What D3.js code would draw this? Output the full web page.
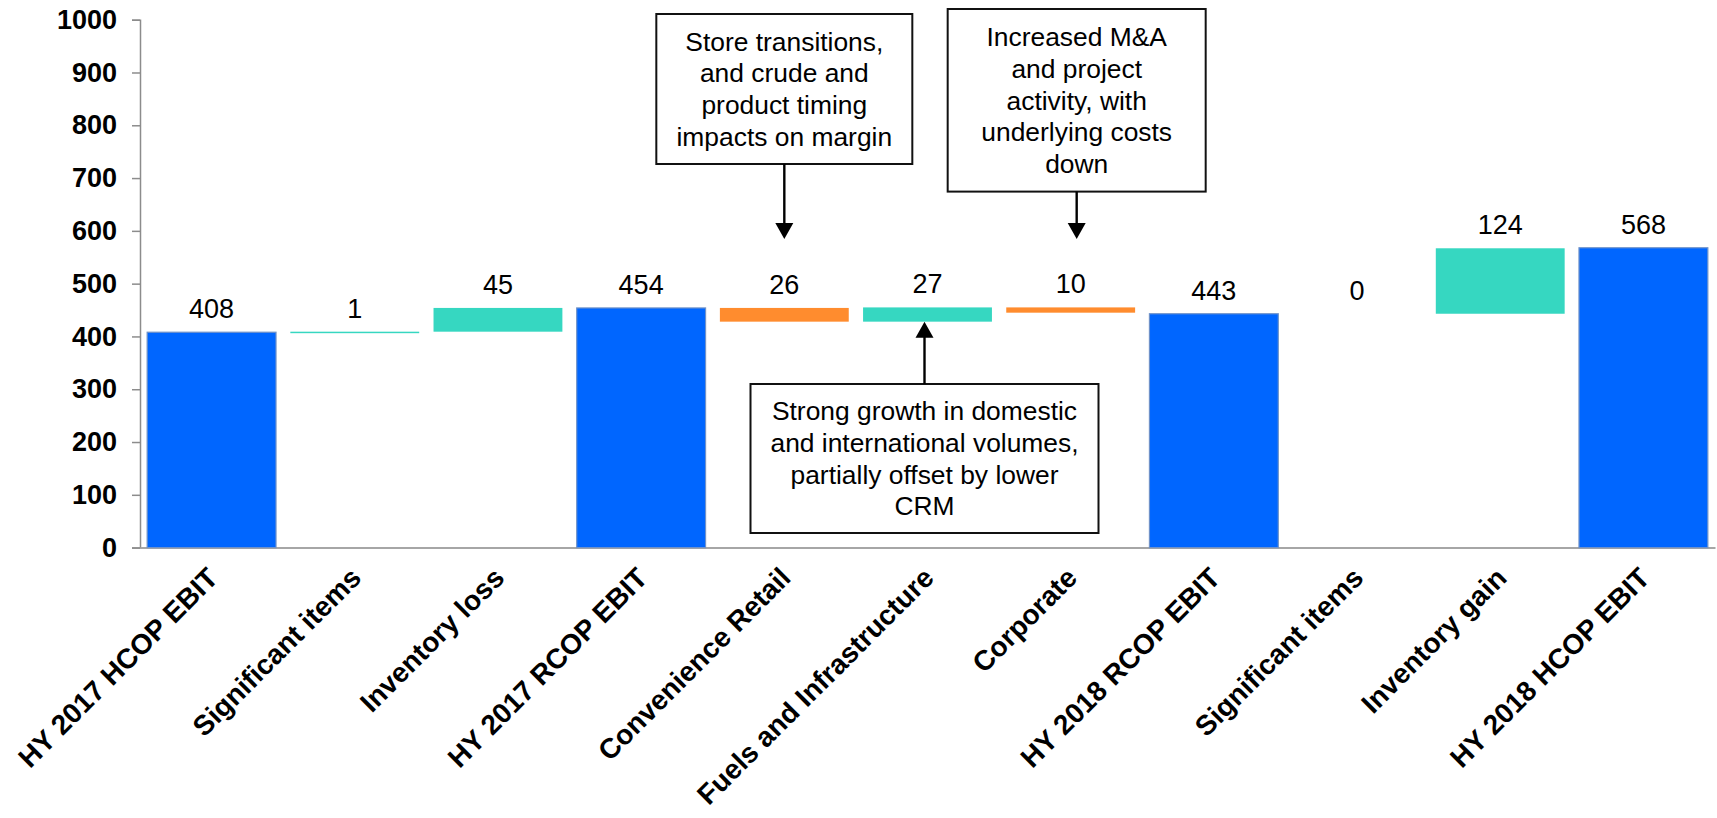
<!DOCTYPE html>
<html><head><meta charset="utf-8">
<script src="https://cdn.jsdelivr.net/npm/d3@7"></script>
<style>
body{margin:0;background:#fff;}
svg{display:block;}
text{font-family:"Liberation Sans",Arial,sans-serif;}
</style>
</head><body>
<svg id="chart" width="1717" height="818"></svg>
<script>
// ---- data ----
const categories = ["HY 2017 HCOP EBIT","Significant items","Inventory loss","HY 2017 RCOP EBIT","Convenience Retail","Fuels and Infrastructure","Corporate","HY 2018 RCOP EBIT","Significant items","Inventory gain","HY 2018 HCOP EBIT"];
const values = [408, 1, 45, 454, -26, 27, -10, 443, 0, 124, 568];
const kinds = ["total","up","up","total","down","up","down","total","up","up","total"];
const valueLabels = ["408","1","45","454","26","27","10","443","0","124","568"];
const yTicks = [0,100,200,300,400,500,600,700,800,900,1000];
const noteCats = [4, 6, 5];
const noteLines = [
  ["Store transitions,","and crude and","product timing","impacts on margin"],
  ["Increased M&A","and project","activity, with","underlying costs","down"],
  ["Strong growth in domestic","and international volumes,","partially offset by lower","CRM"]
];

// ---- layout ----
const plotLeft = 140, plotRight = 1715, plotTop = 19.7, plotBase = 547.6;
const colors = {total:"#0066FF", up:"#36D7C1", down:"#FF8C2E"};

const svg = d3.select("#chart");
const x = d3.scaleBand().domain(d3.range(categories.length)).range([plotLeft, plotRight]).paddingInner(0.1).paddingOuter(0.05);
const y = d3.scaleLinear().domain([0, 1000]).range([plotBase, plotTop]);

// running totals
let run = 0;
const steps = values.map((v, i) => {
  let s, e;
  if (kinds[i] === "total") { s = 0; e = v; run = v; }
  else { s = run; e = run + v; run = e; }
  return {i, s, e, kind: kinds[i], label: valueLabels[i]};
});

// y axis
const yAxis = d3.axisLeft(y).tickValues(yTicks).tickSize(8).tickPadding(15).tickFormat(d3.format("d"));
const gy = svg.append("g").attr("transform", `translate(${plotLeft},0)`).call(yAxis);
gy.selectAll("path,line").attr("stroke", "#8c8c8c").attr("stroke-width", 1.5);
gy.selectAll("text").attr("font-size", 27).attr("font-weight", "bold").attr("fill", "#000")
  .style("font-family", '"Liberation Sans",Arial,sans-serif');

// x axis line
const xAxis = d3.axisBottom(x).tickSize(0).tickFormat("");
const gx = svg.append("g").attr("transform", `translate(0,${plotBase})`).call(xAxis);
gx.select("path").attr("stroke", "#a6a6a6").attr("stroke-width", 2);

// bars
svg.append("g").selectAll("rect").data(steps).join("rect")
  .attr("x", d => x(d.i))
  .attr("width", x.bandwidth())
  .attr("y", d => y(Math.max(d.s, d.e)))
  .attr("height", d => d.e === d.s ? 0 : Math.max(1.5, Math.abs(y(d.s) - y(d.e))))
  .attr("fill", d => colors[d.kind])
  .attr("stroke", d => d.kind === "total" ? "#6f92c9" : "none")
  .attr("stroke-width", 1.2);

// value labels
svg.append("g").selectAll("text").data(steps).join("text")
  .attr("x", d => x(d.i) + x.bandwidth() / 2)
  .attr("y", d => y(Math.max(d.s, d.e)) - 14)
  .attr("text-anchor", "middle")
  .attr("font-size", 27)
  .attr("fill", "#000")
  .text(d => d.label);

// category labels
svg.append("g").selectAll("text").data(categories).join("text")
  .attr("transform", (d, i) => `translate(${x(i) + x.bandwidth() / 2 + 8},${plotBase + 32}) rotate(-45)`)
  .attr("text-anchor", "end")
  .attr("font-size", 28)
  .attr("font-weight", "bold")
  .attr("fill", "#000")
  .text(d => d);

// annotations
const notes = [
  {dx: 0, w: 256, t: 14, b: 164, tip: 239},
  {dx: 6, w: 258, t: 9, b: 191.6, tip: 239},
  {dx: -3, w: 348, t: 384, b: 533, tip: null}
];
const gn = svg.append("g");
notes.forEach((n, k) => {
  const cat = noteCats[k];
  const cx = x(cat) + x.bandwidth() / 2 + n.dx;
  gn.append("rect").attr("x", cx - n.w / 2).attr("y", n.t).attr("width", n.w).attr("height", n.b - n.t)
    .attr("fill", "#fff").attr("stroke", "#111").attr("stroke-width", 2);
  const lines = noteLines[k];
  const lh = 31.8, mid = (n.t + n.b) / 2;
  lines.forEach((ln, j) => {
    gn.append("text").attr("x", cx).attr("y", mid + (j - (lines.length - 1) / 2) * lh)
      .attr("dy", "0.35em").attr("text-anchor", "middle").attr("font-size", 26.4).attr("fill", "#000").text(ln);
  });
  const ah = 16, aw = 9;
  if (n.tip !== null) {
    gn.append("line").attr("x1", cx).attr("x2", cx).attr("y1", n.b).attr("y2", n.tip - ah + 1).attr("stroke", "#000").attr("stroke-width", 2.4);
    gn.append("path").attr("d", `M${cx - aw},${n.tip - ah} L${cx + aw},${n.tip - ah} L${cx},${n.tip} Z`).attr("fill", "#000");
  } else {
    const st = steps[cat];
    const tipY = y(Math.min(st.s, st.e));
    gn.append("line").attr("x1", cx).attr("x2", cx).attr("y1", n.t).attr("y2", tipY + ah - 1).attr("stroke", "#000").attr("stroke-width", 2.4);
    gn.append("path").attr("d", `M${cx - aw},${tipY + ah} L${cx + aw},${tipY + ah} L${cx},${tipY} Z`).attr("fill", "#000");
  }
});
</script>
</body></html>
